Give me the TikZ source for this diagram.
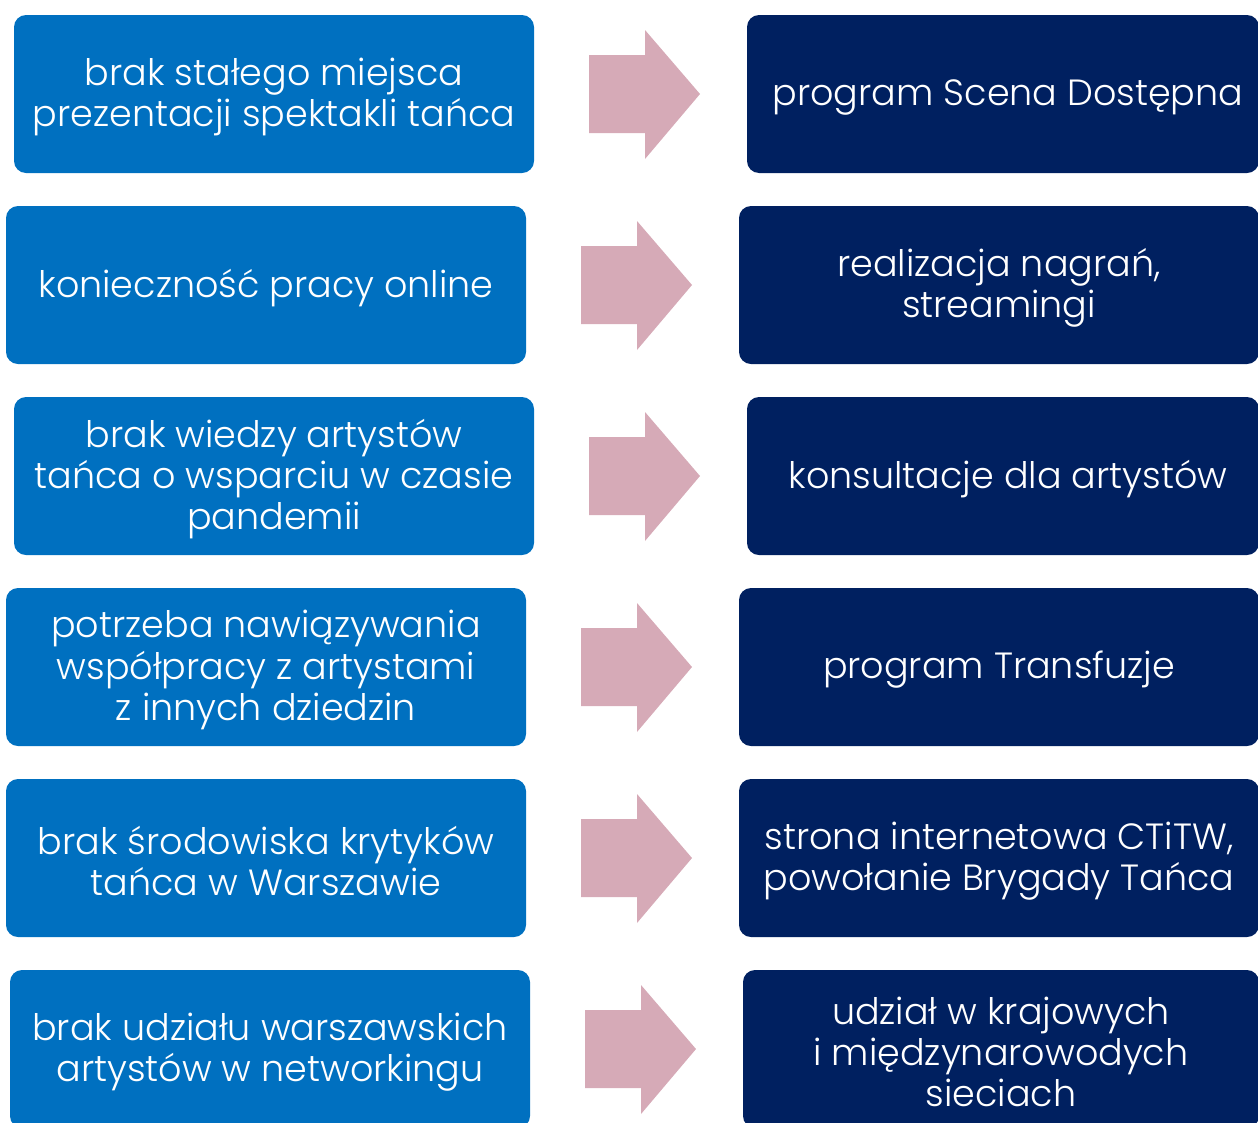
\documentclass[tikz,border=0pt]{standalone}
\usepackage{fontspec}
\setmainfont{Poppins}[UprightFont=* Light]
\definecolor{probblue}{HTML}{0070C0}
\definecolor{solnavy}{HTML}{002060}
\definecolor{arrowpink}{HTML}{D6AAB7}
\begin{document}
\begin{tikzpicture}[x=1pt,y=-1pt,
  box/.style={rounded corners=12pt, minimum width=520pt, minimum height=158pt, inner sep=0pt},
  probbox/.style={box, fill=probblue},
  solbox/.style={box, fill=solnavy},
  txt/.style={text=white, align=center, inner sep=0pt, font=\fontsize{36.5}{41.2}\selectfont},
  bigarrow/.style={fill=arrowpink}]
\useasboundingbox (0,0) rectangle (1258,1122);
\clip (0,0) rectangle (1258,1122);
\foreach \dx/\dy in {0/0, -8/191, 0/382, -8/573, -8/764, -4/955}{
  \fill[bigarrow] (589+\dx,55+\dy) -- (645+\dx,55+\dy) -- (645+\dx,30+\dy) -- (700+\dx,94+\dy)
     -- (645+\dx,159+\dy) -- (645+\dx,133+\dy) -- (589+\dx,133+\dy) -- cycle;
}
\node[probbox] (p1) at (274,94) {};
\node[solbox, minimum width=512pt] (s1) at (1003,94) {};
\node[probbox] (p2) at (266,285) {};
\node[solbox] (s2) at (999,285) {};
\node[probbox] (p3) at (274,476) {};
\node[solbox, minimum width=512pt] (s3) at (1003,476) {};
\node[probbox] (p4) at (266,667) {};
\node[solbox] (s4) at (999,667) {};
\node[probbox] (p5) at (266,858) {};
\node[solbox] (s5) at (999,858) {};
\node[probbox] (p6) at (270,1049) {};
\node[solbox, minimum width=516pt] (s6) at (1001,1049) {};
\node[txt] (p1t) at ([yshift=-3pt]p1.center) {brak stałego miejsca\\prezentacji spektakli tańca};
\node[txt] (s1t) at ([xshift=5pt,yshift=-3pt]s1.center) {program Scena Dostępna};
\node[txt] (p2t) at ([yshift=-3pt]p2.center) {konieczność pracy online};
\node[txt] (s2t) at ([yshift=-3pt]s2.center) {realizacja nagrań,\\streamingi};
\node[txt] (p3t) at ([yshift=-3pt]p3.center) {brak wiedzy artystów\\tańca o wsparciu w czasie\\pandemii};
\node[txt] (s3t) at ([xshift=5pt,yshift=-3pt]s3.center) {konsultacje dla artystów};
\node[txt] (p4t) at ([yshift=-3pt]p4.center) {potrzeba nawiązywania\\współpracy z artystami\\z innych dziedzin};
\node[txt] (s4t) at ([yshift=-3pt]s4.center) {program Transfuzje};
\node[txt] (p5t) at ([yshift=-3pt]p5.center) {brak środowiska krytyków\\tańca w Warszawie};
\node[txt] (s5t) at ([yshift=-3pt]s5.center) {strona internetowa CTiTW,\\powołanie Brygady Tańca};
\node[txt] (p6t) at ([yshift=-3pt]p6.center) {brak udziału warszawskich\\artystów w networkingu};
\node[txt] (s6t) at ([yshift=-3pt]s6.center) {udział w krajowych\\i międzynarowodych\\sieciach};
\end{tikzpicture}
\end{document}
